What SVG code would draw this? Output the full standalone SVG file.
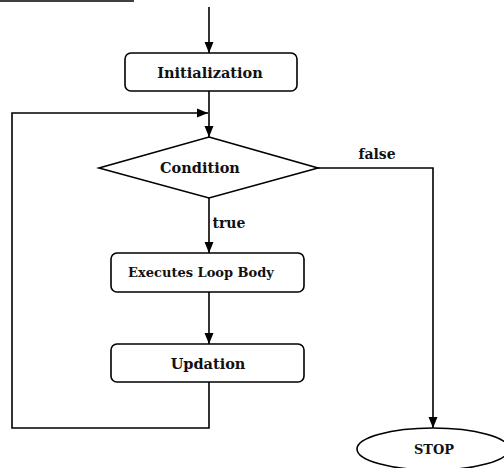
<svg xmlns="http://www.w3.org/2000/svg" width="504" height="468" viewBox="0 0 504 468">
<defs>
<marker id="ah" viewBox="0 0 11 10" refX="11" refY="5" markerWidth="11" markerHeight="10" orient="auto" markerUnits="userSpaceOnUse">
<path d="M0,0.5 L11,5 L0,9.5 z" fill="#000"/>
</marker>
<style>
.shape{fill:#fff;stroke:#000;stroke-width:1.6}
.conn{fill:none;stroke:#000;stroke-width:1.6}
.lbl{font-family:"DejaVu Serif",serif;font-weight:bold;fill:#111;text-anchor:middle}
</style>
</defs>
<rect width="504" height="468" fill="#fff"/>
<line x1="0" y1="1" x2="134" y2="1" stroke="#000" stroke-width="1.6"/>
<g id="connectors">
<line class="conn" x1="209" y1="7" x2="209" y2="53" marker-end="url(#ah)"/>
<line class="conn" x1="209" y1="91" x2="209" y2="137" marker-end="url(#ah)"/>
<polyline class="conn" points="209,382 209,428 12,428 12,113 208,113" marker-end="url(#ah)"/>
<line class="conn" x1="209" y1="198" x2="209" y2="253" marker-end="url(#ah)"/>
<line class="conn" x1="209" y1="292" x2="209" y2="344" marker-end="url(#ah)"/>
<polyline class="conn" points="318,168 433,168 433,428" marker-end="url(#ah)"/>
<text class="lbl" x="377" y="159" font-size="14">false</text>
<text class="lbl" x="229" y="228" font-size="14">true</text>
</g>
<g id="init">
<rect class="shape" x="125" y="53" width="172" height="38" rx="6"/>
<text class="lbl" x="210" y="78" font-size="14.5">Initialization</text>
</g>
<g id="condition">
<polygon class="shape" points="209,137 318,168 209,198 99,168"/>
<text class="lbl" x="200" y="173" font-size="14.5">Condition</text>
</g>
<g id="body">
<rect class="shape" x="111" y="253" width="193" height="39" rx="6"/>
<text class="lbl" x="201" y="277" font-size="13">Executes Loop Body</text>
</g>
<g id="updation">
<rect class="shape" x="111" y="344" width="193" height="38" rx="6"/>
<text class="lbl" x="208" y="369" font-size="14.5">Updation</text>
</g>
<g id="stop">
<ellipse class="shape" cx="433" cy="449" rx="76" ry="21"/>
<text class="lbl" x="434" y="454" font-size="13">STOP</text>
</g>
</svg>
